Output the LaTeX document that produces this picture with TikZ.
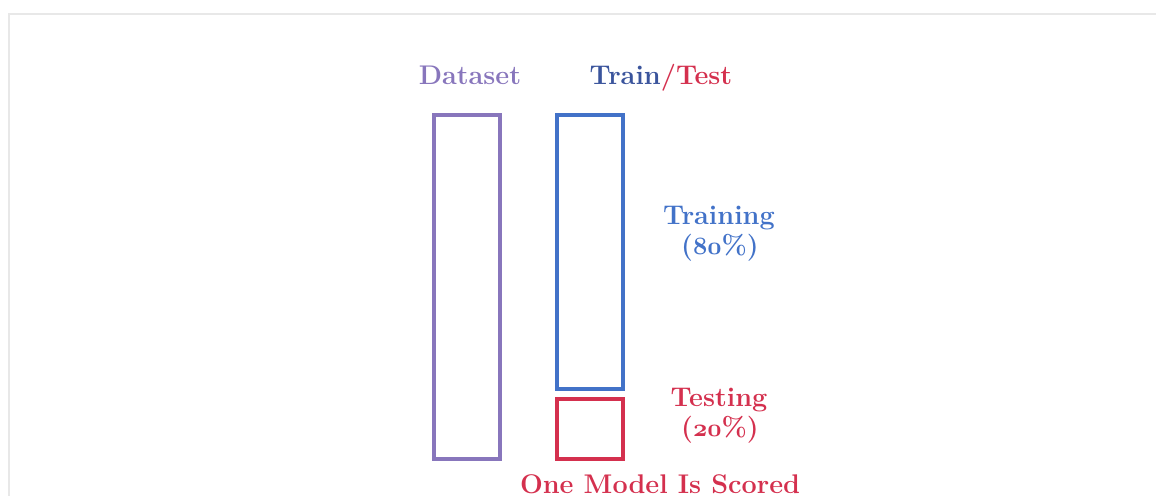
\documentclass[tikz,border=0pt]{standalone}
\definecolor{dsPurple}{RGB}{136,118,188}
\definecolor{trBlue}{RGB}{66,114,200}
\definecolor{trDark}{RGB}{58,84,156}
\definecolor{teRed}{RGB}{212,48,78}
\definecolor{frameGray}{RGB}{232,232,232}
% bold old-style digits for the percentages
\newcommand{\pctnum}[1]{{\usefont{OML}{cmm}{b}{it}#1}}
\begin{document}
\begin{tikzpicture}[x=1pt,y=-1pt,
  split_box/.style={rectangle,draw,line width=4pt,inner sep=0pt,minimum width=66pt},
  split_text/.style={font=\fontsize{27}{32}\selectfont\bfseries,anchor=base,inner sep=0pt,align=center}]

     \useasboundingbox (0,0) rectangle (1156,496);
     \draw[frameGray,line width=2pt] (1156,14) -- (9,14) -- (9,496);

     \node[split_box,dsPurple,minimum height=344pt] (data) at (467,287) {};
     \node[split_box,trBlue,minimum height=274pt] (train) at (590,252) {};
     \node[split_box,teRed,minimum height=60pt] (test) at (590,429) {};

     \node[split_text,dsPurple] (datalbl) at (470,84) {Dataset};
     \node[split_text] (splitlbl) at (661,84) {\textcolor{trDark}{Train}\textcolor{teRed}{/Test}};

     \node[split_text,trBlue] (trainlbl) at (719,224) {Training};
     \node[split_text,trBlue] (trainpct) at (720,254) {(\pctnum{80}\%)};
     \node[split_text,teRed] (testlbl) at (719,406) {Testing};
     \node[split_text,teRed] (testpct) at (720,436) {(\pctnum{20}\%)};

     \node[split_text,teRed] (scorelbl) at (660,493) {One Model Is Scored};
\end{tikzpicture}
\end{document}
